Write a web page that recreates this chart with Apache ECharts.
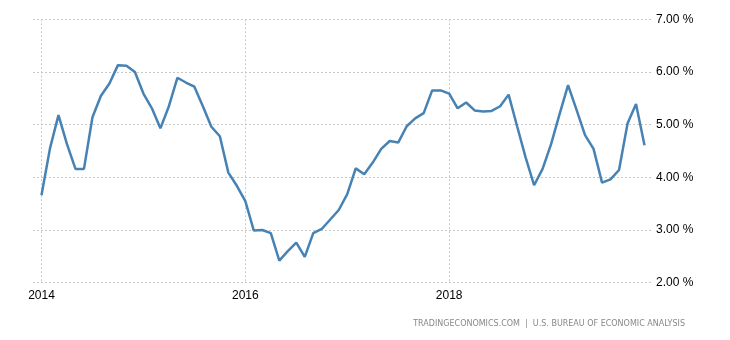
<!DOCTYPE html>
<html>
<head>
<meta charset="utf-8">
<script src="https://cdn.jsdelivr.net/npm/echarts@6/dist/echarts.min.js"></script>
<style>
  html, body { margin: 0; padding: 0; background: #fff; }
  #main { width: 730px; height: 340px; }
</style>
</head>
<body>
<div id="main"></div>
<script>
// monthly values, Jan 2014 .. Dec 2019
var years = [2014, 2015, 2016, 2017, 2018, 2019];
var values = [
  3.66, 4.55, 5.18, 4.63, 4.16, 4.16, 5.14, 5.55, 5.78, 6.13, 6.12, 6.00,
  5.59, 5.31, 4.93, 5.35, 5.89, 5.80, 5.72, 5.35, 4.96, 4.78, 4.09, 3.84,
  3.55, 2.99, 3.00, 2.94, 2.42, 2.60, 2.76, 2.49, 2.94, 3.02, 3.20, 3.38,
  3.68, 4.17, 4.06, 4.28, 4.54, 4.69, 4.66, 4.97, 5.12, 5.22, 5.65, 5.65,
  5.59, 5.31, 5.42, 5.27, 5.25, 5.26, 5.35, 5.57, 4.97, 4.38, 3.85, 4.16,
  4.63, 5.20, 5.75, 5.28, 4.80, 4.54, 3.90, 3.96, 4.14, 5.02, 5.39, 4.61
];
var shownYears = ['2014', '2016', '2018'];
var yTicks = [2, 3, 4, 5, 6, 7];

// one empty slot on each side so the line sits inside the grid
var months = [''];
years.forEach(function (y) {
  for (var m = 1; m <= 12; m++) months.push(y + '-' + (m < 10 ? '0' + m : m));
});
months.push('');
var seriesData = [null].concat(values).concat([null]);

function isYearTick(index) {
  var lab = months[index];
  return lab !== '' && lab.slice(5) === '01' && shownYears.indexOf(lab.slice(0, 4)) >= 0;
}

var chart = echarts.init(document.getElementById('main'), null, { renderer: 'canvas' });

var option = {
  animation: false,
  backgroundColor: '#fff',
  grid: { left: 33, right: 77, top: 19.3, bottom: 57.3 },
  xAxis: {
    type: 'category',
    data: months,
    boundaryGap: false,
    axisLine: { show: false },
    axisTick: { show: false },
    axisLabel: {
      interval: function (i) { return isYearTick(i); },
      formatter: function (v) { return v.slice(0, 4); },
      color: '#000',
      fontFamily: 'Liberation Sans, Arial, sans-serif',
      fontSize: 12,
      margin: 7
    },
    splitLine: {
      show: true,
      interval: function (i) { return isYearTick(i); },
      lineStyle: { color: '#c8c8c8', type: [2, 2], width: 1 }
    }
  },
  yAxis: {
    type: 'value',
    position: 'right',
    min: yTicks[0],
    max: yTicks[yTicks.length - 1],
    interval: 1,
    axisLine: { show: false },
    axisTick: { show: false },
    axisLabel: {
      formatter: function (v) { return v.toFixed(2) + ' %'; },
      color: '#000',
      fontFamily: 'Liberation Sans, Arial, sans-serif',
      fontSize: 12,
      margin: 3
    },
    splitLine: {
      lineStyle: { color: '#c8c8c8', type: [2, 2], width: 1 }
    }
  },
  series: [{
    type: 'line',
    data: seriesData,
    showSymbol: false,
    symbol: 'none',
    lineStyle: { color: '#4682B4', width: 2.5 }
  }],
  graphic: [{
    type: 'text',
    right: 45,
    top: 320,
    style: {
      text: 'TRADINGECONOMICS.COM  |  U.S. BUREAU OF ECONOMIC ANALYSIS',
      fill: '#888',
      font: '8px "DejaVu Sans", sans-serif'
    }
  }]
};

chart.setOption(option);
</script>
</body>
</html>
